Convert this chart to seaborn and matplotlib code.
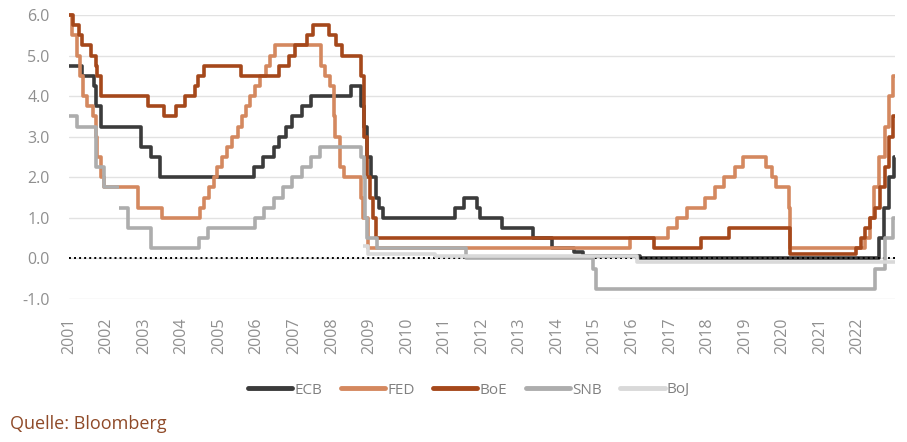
import pandas as pd
import matplotlib
matplotlib.use('Agg')
import matplotlib.pyplot as plt
from matplotlib.lines import Line2D
import seaborn as sns

# Leitzinsen (Änderungstermine und neue Sätze)
ecb_dates = ['2001-01-01', '2001-05-11', '2001-08-31', '2001-09-18', '2001-11-09', '2002-12-06',
             '2003-03-07', '2003-06-06', '2005-12-06', '2006-03-08', '2006-06-15', '2006-08-09',
             '2006-10-11', '2006-12-13', '2007-03-14', '2007-06-13', '2008-07-09', '2008-10-15',
             '2008-11-12', '2008-12-10', '2009-01-21', '2009-03-11', '2009-04-08', '2009-05-13',
             '2011-04-13', '2011-07-13', '2011-11-09', '2011-12-14', '2012-07-11', '2013-05-08',
             '2013-11-13', '2014-06-11', '2014-09-10', '2016-03-16', '2022-07-27', '2022-09-14',
             '2022-11-02', '2022-12-21', '2022-12-31']
ecb_rates = [4.75, 4.50, 4.25, 3.75, 3.25, 2.75, 2.50, 2.00, 2.25, 2.50, 2.75, 3.00, 3.25, 3.50,
             3.75, 4.00, 4.25, 3.75, 3.25, 2.50, 2.00, 1.50, 1.25, 1.00, 1.25, 1.50, 1.25, 1.00,
             0.75, 0.50, 0.25, 0.15, 0.05, 0.00, 0.50, 1.25, 2.00, 2.50, 2.50]

fed_dates = ['2001-01-01', '2001-01-31', '2001-03-20', '2001-04-18', '2001-05-15', '2001-06-27',
             '2001-08-21', '2001-09-17', '2001-10-02', '2001-11-06', '2001-12-11', '2002-11-06',
             '2003-06-25', '2004-06-30', '2004-08-10', '2004-09-21', '2004-11-10', '2004-12-14',
             '2005-02-02', '2005-03-22', '2005-05-03', '2005-06-30', '2005-08-09', '2005-09-20',
             '2005-11-01', '2005-12-13', '2006-01-31', '2006-03-28', '2006-05-10', '2006-06-29',
             '2007-09-18', '2007-10-31', '2007-12-11', '2008-01-22', '2008-01-30', '2008-03-18',
             '2008-04-30', '2008-10-08', '2008-10-29', '2008-12-16', '2015-12-16', '2016-12-14',
             '2017-03-15', '2017-06-14', '2017-12-13', '2018-03-21', '2018-06-13', '2018-09-26',
             '2018-12-19', '2019-07-31', '2019-09-18', '2019-10-30', '2020-03-03', '2020-03-15',
             '2022-03-16', '2022-05-04', '2022-06-15', '2022-07-27', '2022-09-21', '2022-11-02',
             '2022-12-14', '2022-12-31']
fed_rates = [6.00, 5.50, 5.00, 4.50, 4.00, 3.75, 3.50, 3.00, 2.50, 2.00, 1.75, 1.25, 1.00, 1.25,
             1.50, 1.75, 2.00, 2.25, 2.50, 2.75, 3.00, 3.25, 3.50, 3.75, 4.00, 4.25, 4.50, 4.75,
             5.00, 5.25, 4.75, 4.50, 4.25, 3.50, 3.00, 2.25, 2.00, 1.50, 1.00, 0.25, 0.50, 0.75,
             1.00, 1.25, 1.50, 1.75, 2.00, 2.25, 2.50, 2.25, 2.00, 1.75, 1.25, 0.25, 0.50, 1.00,
             1.75, 2.50, 3.25, 4.00, 4.50, 4.50]

boe_dates = ['2001-01-01', '2001-02-08', '2001-04-05', '2001-05-10', '2001-08-02', '2001-09-18',
             '2001-10-04', '2001-11-08', '2003-02-06', '2003-07-10', '2003-11-06', '2004-02-05',
             '2004-05-06', '2004-06-10', '2004-08-05', '2005-08-04', '2006-08-03', '2006-11-09',
             '2007-01-11', '2007-05-10', '2007-07-05', '2007-12-06', '2008-02-07', '2008-04-10',
             '2008-10-08', '2008-11-06', '2008-12-04', '2009-01-08', '2009-02-05', '2009-03-05',
             '2016-08-04', '2017-11-02', '2018-08-02', '2020-03-11', '2020-03-19', '2021-12-16',
             '2022-02-03', '2022-03-17', '2022-05-05', '2022-06-16', '2022-08-04', '2022-09-22',
             '2022-11-03', '2022-12-15', '2022-12-31']
boe_rates = [6.00, 5.75, 5.50, 5.25, 5.00, 4.75, 4.50, 4.00, 3.75, 3.50, 3.75, 4.00, 4.25, 4.50,
             4.75, 4.50, 4.75, 5.00, 5.25, 5.50, 5.75, 5.50, 5.25, 5.00, 4.50, 3.00, 2.00, 1.50,
             1.00, 0.50, 0.25, 0.50, 0.75, 0.25, 0.10, 0.25, 0.50, 0.75, 1.00, 1.25, 1.75, 2.25,
             3.00, 3.50, 3.50]

# SNB: Lücke im Frühjahr 2002 -> zwei Segmente
snb_dates = ['2001-01-01', '2001-03-22', '2001-09-17', '2001-09-24', '2001-12-07', '2002-05-01',
             '2002-05-02', '2002-07-26', '2003-03-06', '2004-06-17', '2004-09-16', '2005-12-15',
             '2006-03-16', '2006-06-15', '2006-09-14', '2006-12-14', '2007-03-15', '2007-06-14',
             '2007-09-13', '2008-10-08', '2008-11-06', '2008-11-20', '2008-12-11', '2009-03-12',
             '2011-08-03', '2014-12-18', '2015-01-15', '2022-06-16', '2022-09-22', '2022-12-15',
             '2022-12-31']
snb_rates = [3.50, 3.25, 2.75, 2.25, 1.75, 1.75, 1.25, 0.75, 0.25, 0.50, 0.75, 1.00, 1.25, 1.50,
             1.75, 2.00, 2.25, 2.50, 2.75, 2.50, 2.00, 1.00, 0.50, 0.25, 0.00, -0.25, -0.75,
             -0.25, 0.50, 1.00, 1.00]
snb_segment = [0] * 6 + [1] * 25

boj_dates = ['2008-10-31', '2008-12-19', '2010-10-05', '2016-02-16', '2022-12-31']
boj_rates = [0.30, 0.10, 0.05, -0.10, -0.10]

banks = ['ECB', 'FED', 'BoE', 'SNB', 'BoJ']
colors = {'ECB': '#3b3b3b', 'FED': '#d4885f', 'BoE': '#a5481b', 'SNB': '#adadad', 'BoJ': '#d9d9d9'}

frames = []
for name, d, r, seg in [('ECB', ecb_dates, ecb_rates, None), ('FED', fed_dates, fed_rates, None),
                        ('BoE', boe_dates, boe_rates, None), ('SNB', snb_dates, snb_rates, snb_segment),
                        ('BoJ', boj_dates, boj_rates, None)]:
    f = pd.DataFrame({'date': pd.to_datetime(d), 'rate': r})
    f['bank'] = name
    f['segment'] = seg if seg is not None else 0
    frames.append(f)
df = pd.concat(frames, ignore_index=True)

sns.set_style('white')
plt.rcParams['font.family'] = ['Open Sans', 'DejaVu Sans']

fig = plt.figure(figsize=(9.07, 4.42), dpi=100)
ax = fig.add_axes([69 / 907, 1 - 299 / 442, (895 - 69) / 907, (299 - 15) / 442])

for i, b in enumerate(banks):
    sns.lineplot(data=df[df['bank'] == b], x='date', y='rate', units='segment', estimator=None,
                 color=colors[b], lw=2.6, drawstyle='steps-post', ax=ax, zorder=3 + i,
                 clip_on=False, solid_capstyle='butt')

ax.axhline(0, color='black', lw=1.4, ls=(0, (1, 1.6)), zorder=3.5)

ax.set_xlim(pd.Timestamp('2001-01-01'), pd.Timestamp('2023-01-01'))
ax.set_ylim(-1, 6)
ax.set_yticks(range(-1, 7))
ax.set_yticklabels([f'{v:.1f}' for v in range(-1, 7)])
years = list(range(2001, 2023))
ax.set_xticks(pd.to_datetime([f'{y}-01-01' for y in years]))
ax.set_xticklabels([str(y) for y in years], rotation=90)
ax.tick_params(axis='both', length=0, labelsize=11.5, labelcolor='#8f8f8f')
ax.tick_params(axis='x', pad=13)
ax.tick_params(axis='y', pad=14)
ax.yaxis.grid(True, color='#e2e2e2', lw=1)
ax.xaxis.grid(False)
ax.set_xlabel('')
ax.set_ylabel('')
sns.despine(ax=ax, left=True, bottom=True)

handles = [Line2D([0], [0], color=colors[b], lw=3.5) for b in banks]
fig.legend(handles, banks, loc='center', bbox_to_anchor=(0.517, 1 - 390 / 442), ncol=5,
           frameon=False, handlelength=2.9, columnspacing=1.2, handletextpad=0.15,
           fontsize=11, labelcolor='#808080')

fig.text(10 / 907, 1 - 424 / 442, 'Quelle: Bloomberg', color='#8f4a28', fontsize=13,
         va='center', ha='left')

fig.savefig('out.png', dpi=100)
